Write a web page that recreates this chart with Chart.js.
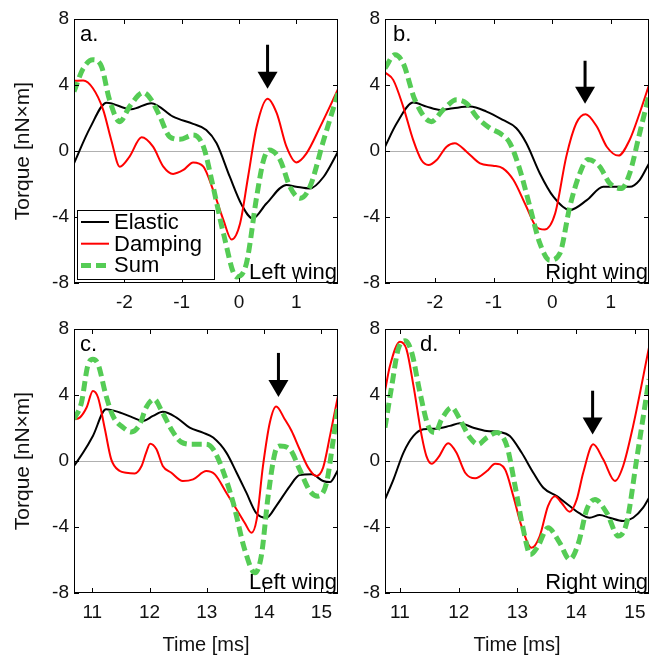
<!DOCTYPE html>
<html>
<head>
<meta charset="utf-8">
<script src="https://cdn.jsdelivr.net/npm/chart.js@4.4.1/dist/chart.umd.min.js"></script>
<style>
  body { margin: 0; background: #fff; }
  #wrap { position: relative; width: 657px; height: 658px; }
  canvas { position: absolute; }
</style>
</head>
<body>
<div id="wrap">
  <canvas id="pa" width="345" height="322" style="left:0;top:0"></canvas>
  <canvas id="pb" width="312" height="322" style="left:345px;top:0"></canvas>
  <canvas id="pc" width="345" height="348" style="left:0;top:310px"></canvas>
  <canvas id="pd" width="312" height="348" style="left:345px;top:310px"></canvas>
</div>
<script>
// tick values
const yTicks = [-8, -4, 0, 4, 8];
const xTicksTop = [-2, -1, 0, 1];
const xTicksBottom = [11, 12, 13, 14, 15];

// torque traces, [time, torque] pairs
const elasticA = [[-2.88,-0.75],[-2.6,1.4],[-2.31,2.93],[-1.88,2.53],[-1.53,2.9],[-1.15,2.08],[-0.8,1.64],[-0.57,1.28],[-0.39,0.47],[-0.16,-1.56],[0.05,-3.28],[0.24,-4.09],[0.48,-3.18],[0.83,-2.06],[1.0,-2.16],[1.24,-2.27],[1.48,-1.56],[1.73,-0.04]];
const dampingA = [[-2.88,4.25],[-2.72,4.27],[-2.55,3.8],[-2.37,2.49],[-2.23,0.67],[-2.08,-0.95],[-1.91,-0.34],[-1.70,0.83],[-1.5,0.26],[-1.32,-0.95],[-1.15,-1.39],[-0.97,-1.15],[-0.8,-0.69],[-0.62,-0.95],[-0.45,-2.37],[-0.27,-4.19],[-0.13,-5.36],[0.02,-4.39],[0.16,-1.56],[0.31,1.48],[0.50,3.16],[0.66,2.29],[0.83,0.26],[1.0,-0.69],[1.18,-0.14],[1.42,1.48],[1.73,3.74]];
const sumA = [[-2.88,3.6],[-2.72,5.0],[-2.55,5.53],[-2.4,5.12],[-2.26,3.1],[-2.08,1.78],[-1.91,2.69],[-1.67,3.54],[-1.53,3.1],[-1.38,2.08],[-1.21,0.87],[-1.03,0.71],[-0.8,0.97],[-0.62,0.26],[-0.45,-2.17],[-0.27,-5.0],[-0.04,-7.63],[0.13,-6.82],[0.31,-2.77],[0.43,-0.55],[0.53,0.06],[0.72,-0.55],[0.89,-2.17],[1.07,-2.87],[1.24,-2.17],[1.48,0.67],[1.73,3.5]];

const elasticB = [[-2.85,0.26],[-2.65,1.68],[-2.37,2.94],[-2.14,2.69],[-1.91,2.49],[-1.69,2.59],[-1.40,2.69],[-1.12,2.39],[-0.84,1.88],[-0.61,1.38],[-0.44,0.47],[-0.21,-1.36],[0.02,-2.77],[0.30,-3.58],[0.59,-2.98],[0.87,-2.17],[1.10,-2.17],[1.32,-2.17],[1.49,-1.76],[1.65,-0.75]];
const dampingB = [[-2.85,4.76],[-2.71,4.31],[-2.54,2.69],[-2.37,0.67],[-2.23,-0.55],[-2.11,-0.85],[-1.97,-0.55],[-1.80,0.26],[-1.66,0.47],[-1.46,-0.04],[-1.23,-0.75],[-1.01,-0.89],[-0.84,-1.05],[-0.66,-1.76],[-0.44,-3.38],[-0.27,-4.6],[-0.13,-4.76],[0.05,-3.79],[0.24,-0.34],[0.41,1.68],[0.57,2.23],[0.76,1.48],[0.93,0.26],[1.13,-0.28],[1.32,0.67],[1.49,2.29],[1.65,4.0]];
const sumB = [[-2.85,5.02],[-2.68,5.83],[-2.54,5.32],[-2.34,3.1],[-2.06,1.78],[-1.86,2.49],[-1.63,3.1],[-1.46,2.89],[-1.29,2.08],[-1.06,1.38],[-0.89,1.07],[-0.72,0.47],[-0.55,-1.15],[-0.38,-3.38],[-0.21,-5.6],[-0.04,-6.62],[0.13,-6.21],[0.30,-3.38],[0.47,-1.36],[0.61,-0.51],[0.81,-0.95],[0.98,-1.96],[1.18,-2.27],[1.32,-1.36],[1.49,1.07],[1.65,3.4]];

const elasticC = [[10.68,-0.3],[10.84,0.51],[11.01,1.52],[11.24,3.14],[11.48,2.94],[11.71,2.63],[11.88,2.43],[12.06,2.73],[12.23,2.98],[12.47,2.63],[12.7,2.02],[12.93,1.72],[13.11,1.42],[13.34,0.51],[13.52,-0.71],[13.69,-1.92],[13.86,-3.14],[14.04,-3.44],[14.21,-2.73],[14.45,-1.52],[14.62,-0.85],[14.83,-0.81],[15.03,-1.21],[15.15,-1.28],[15.29,-0.55]];
const dampingC = [[10.68,2.53],[10.78,2.63],[10.9,3.24],[11.01,4.25],[11.1,3.85],[11.22,1.92],[11.33,0.1],[11.48,-0.61],[11.59,-0.71],[11.74,-0.75],[11.86,-0.3],[11.94,0.51],[12.01,1.05],[12.12,0.71],[12.23,-0.3],[12.38,-0.71],[12.58,-1.21],[12.76,-1.11],[12.99,-0.61],[13.14,-0.81],[13.34,-1.92],[13.52,-2.94],[13.66,-3.74],[13.78,-4.35],[13.87,-3.54],[13.98,-0.3],[14.1,2.33],[14.21,3.3],[14.36,2.53],[14.48,1.82],[14.62,0.71],[14.77,-0.4],[14.91,-0.91],[15.03,-0.4],[15.15,1.52],[15.29,3.95]];
const sumC = [[10.68,2.53],[10.81,3.54],[10.92,5.77],[11.01,6.17],[11.1,5.87],[11.24,3.95],[11.36,2.73],[11.54,2.02],[11.68,1.76],[11.83,2.23],[11.94,3.24],[12.08,3.74],[12.21,3.04],[12.38,1.92],[12.55,1.15],[12.76,1.01],[12.99,1.01],[13.11,0.71],[13.25,-0.3],[13.46,-2.53],[13.66,-5.36],[13.84,-6.78],[13.95,-5.77],[14.07,-2.13],[14.19,0.51],[14.27,0.91],[14.45,0.71],[14.62,-0.51],[14.8,-1.82],[14.94,-2.13],[15.09,-1.32],[15.2,1.11],[15.29,3.34]];

const elasticD = [[10.745,-2.33],[10.89,-1.11],[11.06,0.51],[11.23,1.52],[11.4,1.92],[11.62,1.96],[11.85,2.13],[12.02,2.29],[12.25,2.02],[12.48,1.82],[12.7,1.76],[12.87,1.52],[13.07,0.51],[13.27,-0.71],[13.44,-1.62],[13.67,-2.13],[13.89,-2.73],[14.06,-3.18],[14.23,-3.44],[14.4,-3.28],[14.57,-3.44],[14.8,-3.64],[14.97,-3.44],[15.14,-2.83],[15.24,-2.23]];
const dampingD = [[10.745,4.25],[10.83,5.77],[11.0,7.23],[11.11,6.78],[11.23,4.55],[11.37,1.52],[11.45,0.3],[11.54,-0.16],[11.65,0.2],[11.82,1.07],[11.96,0.51],[12.11,-0.71],[12.28,-1.05],[12.48,-0.61],[12.62,-0.16],[12.79,-0.51],[12.93,-2.13],[13.07,-3.95],[13.24,-5.26],[13.38,-4.55],[13.52,-2.73],[13.64,-2.13],[13.75,-2.53],[13.89,-3.08],[14.01,-2.33],[14.12,-0.71],[14.29,1.01],[14.46,0.1],[14.66,-1.21],[14.8,-0.3],[14.97,2.13],[15.24,6.88]];
const sumD = [[10.745,2.02],[10.86,4.55],[10.97,6.78],[11.09,7.29],[11.2,6.58],[11.34,4.15],[11.48,2.13],[11.6,1.72],[11.71,2.53],[11.88,3.24],[12.02,2.53],[12.19,1.42],[12.33,1.01],[12.48,1.42],[12.65,1.72],[12.82,0.91],[12.96,-1.52],[13.1,-4.15],[13.22,-5.67],[13.35,-5.16],[13.52,-4.05],[13.72,-4.96],[13.89,-5.97],[14.04,-4.96],[14.18,-2.94],[14.32,-2.33],[14.52,-3.14],[14.72,-4.55],[14.86,-3.74],[15.03,0.1],[15.24,4.96]];

// arrows marking the damping peak: time, tail torque, tip torque
const arrowX = [0.50, 0.56, 14.25, 14.28];
const arrowTail = [6.44, 5.47, 6.55, 4.26];
const arrowTip = [3.78, 2.87, 3.88, 1.6];

const GREEN = '#55cc55';
const FONT = '"Liberation Sans", Arial, sans-serif';
const PLOT_H = 264;

const panels = [
  { id: 'pa', letter: 'a.', wing: 'Left wing', xMin: -2.88, xMax: 1.73, xTicks: xTicksTop,
    series: [elasticA, dampingA, sumA], left: true, bottom: false, legend: true, letterDx: 6 },
  { id: 'pb', letter: 'b.', wing: 'Right wing', xMin: -2.85, xMax: 1.65, xTicks: xTicksTop,
    series: [elasticB, dampingB, sumB], left: false, bottom: false, legend: false, letterDx: 8 },
  { id: 'pc', letter: 'c.', wing: 'Left wing', xMin: 10.68, xMax: 15.29, xTicks: xTicksBottom,
    series: [elasticC, dampingC, sumC], left: true, bottom: true, legend: false, letterDx: 6 },
  { id: 'pd', letter: 'd.', wing: 'Right wing', xMin: 10.745, xMax: 15.24, xTicks: xTicksBottom,
    series: [elasticD, dampingD, sumD], left: false, bottom: true, legend: false, letterDx: 35 },
];

const decor = {
  id: 'decor',
  afterDatasetsDraw(chart, args, opts) {
    const { ctx, chartArea: ca, scales: { x, y } } = chart;
    ctx.save();

    // frame with inward ticks on all sides
    ctx.strokeStyle = '#000';
    ctx.lineWidth = 1;
    ctx.strokeRect(ca.left + 0.5, ca.top + 0.5, ca.width - 1, ca.height - 1);
    ctx.beginPath();
    x.ticks.forEach(t => {
      const px = Math.round(x.getPixelForValue(t.value)) + 0.5;
      ctx.moveTo(px, ca.bottom); ctx.lineTo(px, ca.bottom - 5);
      ctx.moveTo(px, ca.top); ctx.lineTo(px, ca.top + 5);
    });
    y.ticks.forEach(t => {
      const py = Math.round(y.getPixelForValue(t.value)) + 0.5;
      ctx.moveTo(ca.left, py); ctx.lineTo(ca.left + 5, py);
      ctx.moveTo(ca.right, py); ctx.lineTo(ca.right - 5, py);
    });
    ctx.stroke();

    // arrow
    const ax = x.getPixelForValue(arrowX[opts.index]);
    const aTail = y.getPixelForValue(arrowTail[opts.index]);
    const aTip = y.getPixelForValue(arrowTip[opts.index]);
    ctx.fillStyle = '#000';
    ctx.fillRect(ax - 1.5, aTail, 3, aTip - aTail - 14);
    ctx.beginPath();
    ctx.moveTo(ax - 10, aTip - 17);
    ctx.lineTo(ax + 10, aTip - 17);
    ctx.lineTo(ax, aTip);
    ctx.closePath();
    ctx.fill();

    // panel letter and wing label
    ctx.font = '22px ' + FONT;
    ctx.fillStyle = '#000';
    ctx.textBaseline = 'alphabetic';
    ctx.textAlign = 'left';
    ctx.fillText(opts.letter, ca.left + opts.letterDx, ca.top + 22);
    ctx.textAlign = 'right';
    ctx.fillText(opts.wing, ca.right - 1, ca.bottom - 4);

    // legend box
    if (opts.legend) {
      const bx = ca.left + 3, by = ca.bottom - 73, bw = 137, bh = 69;
      ctx.fillStyle = '#fff';
      ctx.fillRect(bx, by, bw, bh);
      ctx.strokeStyle = '#000';
      ctx.lineWidth = 1;
      ctx.strokeRect(bx + 0.5, by + 0.5, bw, bh);
      ctx.textAlign = 'left';
      ctx.textBaseline = 'middle';
      chart.data.datasets.forEach((ds, i) => {
        const ry = by + 12 + i * 21.7;
        ctx.beginPath();
        ctx.strokeStyle = ds.borderColor;
        ctx.lineWidth = ds.borderWidth;
        ctx.setLineDash(ds.borderDash || []);
        ctx.moveTo(bx + 4, ry);
        ctx.lineTo(bx + 32, ry);
        ctx.stroke();
        ctx.setLineDash([]);
        ctx.fillStyle = '#000';
        ctx.fillText(ds.label, bx + 37, ry + 1);
      });
    }
    ctx.restore();
  }
};

const toXY = arr => arr.map(([t, v]) => ({ x: t, y: v }));

panels.forEach((p, i) => {
  const el = document.getElementById(p.id);
  const yAxisW = p.left ? 74 : 40;
  const xAxisH = el.height - 19 - PLOT_H;
  new Chart(el, {
    type: 'line',
    data: {
      datasets: [
        { label: 'Elastic', data: toXY(p.series[0]), borderColor: '#000000', borderWidth: 2, order: 2 },
        { label: 'Damping', data: toXY(p.series[1]), borderColor: '#ff0000', borderWidth: 2, order: 1 },
        { label: 'Sum', data: toXY(p.series[2]), borderColor: GREEN, borderWidth: 5, borderDash: [10, 5], order: 0 },
      ],
    },
    options: {
      responsive: false,
      animation: false,
      devicePixelRatio: 1,
      layout: { padding: { top: 19, right: el.width - yAxisW - 264, left: 0, bottom: 0 } },
      elements: {
        point: { radius: 0 },
        line: { cubicInterpolationMode: 'monotone', fill: false },
      },
      plugins: {
        legend: { display: false },
        tooltip: { enabled: false },
        decor: { index: i, letter: p.letter, wing: p.wing, legend: p.legend, letterDx: p.letterDx },
      },
      scales: {
        x: {
          type: 'linear',
          min: p.xMin,
          max: p.xMax,
          afterBuildTicks: s => { s.ticks = p.xTicks.map(v => ({ value: v })); },
          afterFit: s => { s.height = xAxisH; },
          grid: { display: false },
          border: { display: false },
          ticks: { color: '#111', font: { family: FONT, size: 19 }, padding: 0 },
          title: {
            display: p.bottom, text: 'Time [ms]', color: '#111',
            font: { family: FONT, size: 20 }, padding: { top: 0, bottom: 1 },
          },
        },
        y: {
          min: -8,
          max: 8,
          afterBuildTicks: s => { s.ticks = yTicks.map(v => ({ value: v })); },
          afterFit: s => { s.width = yAxisW; },
          grid: {
            color: c => (c.tick && c.tick.value === 0 ? '#b0b0b0' : 'rgba(0,0,0,0)'),
            drawTicks: false,
            lineWidth: 1,
          },
          border: { display: false },
          ticks: { color: '#111', font: { family: FONT, size: 19 }, padding: 5 },
          title: {
            display: p.left, text: 'Torque [nN×m]', color: '#111',
            font: { family: FONT, size: 21 }, padding: { top: 11, bottom: 0 },
          },
        },
      },
    },
    plugins: [decor],
  });
});
</script>
</body>
</html>
